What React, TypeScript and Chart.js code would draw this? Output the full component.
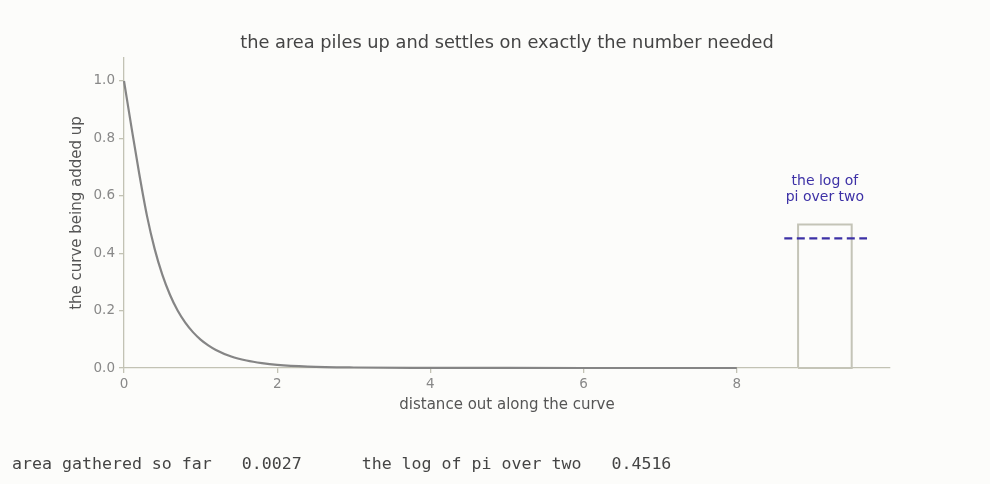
import { useEffect, useRef } from 'react';
import { Chart, registerables } from 'chart.js';

Chart.register(...registerables);

// the curve being added up
const curveX = [0, 0.1, 0.2, 0.3, 0.4, 0.5, 0.6, 0.7, 0.8, 0.9, 1.0, 1.1, 1.2, 1.4, 1.6, 1.8, 2.0, 2.4, 3.0, 4.0, 5.0, 6.0, 8.0];
const curveY = [1.0, 0.835, 0.675, 0.53, 0.415, 0.325, 0.255, 0.2, 0.158, 0.125, 0.099, 0.079, 0.063, 0.04, 0.026, 0.017, 0.011, 0.005, 0.0018, 0.0005, 0.0001, 0.0, 0.0];

// the box on the right and the target line
const boxX = [8.8, 9.5];
const boxHeight = 0.5;
const targetX = [8.62, 9.7];
const logPiOverTwo = 0.4516;
const areaSoFar = 0.0027;

const xTicks = [0, 2, 4, 6, 8];
const yTicks = [0, 0.2, 0.4, 0.6, 0.8, 1.0];

const AXIS = '#c2c2b4';
const INK = '#444444';
const TICK = '#888888';
const BLUE = '#3d31a6';

const textPlugin = {
  id: 'extraText',
  afterDraw(chart: any) {
    const { ctx, chartArea, scales } = chart;
    ctx.save();
    ctx.textAlign = 'center';
    ctx.textBaseline = 'middle';
    ctx.fillStyle = INK;
    ctx.font = '17.8px "DejaVu Sans"';
    ctx.fillText('the area piles up and settles on exactly the number needed', (chartArea.left + chartArea.right) / 2, 43);

    const cx = scales.x.getPixelForValue((boxX[0] + boxX[1]) / 2);
    ctx.fillStyle = BLUE;
    ctx.font = '14px "DejaVu Sans"';
    ctx.fillText('the log of', cx, 181);
    ctx.fillText('pi over two', cx, 197.5);
    ctx.restore();
  },
};

export default function App() {
  const canvasRef = useRef<HTMLCanvasElement>(null);
  const chartRef = useRef<Chart | null>(null);

  useEffect(() => {
    document.body.style.margin = '0';
    document.body.style.background = '#fcfcfa';
    if (!canvasRef.current) return;
    if (chartRef.current) chartRef.current.destroy();

    Chart.defaults.font.family = '"DejaVu Sans", sans-serif';

    const curve = curveX.map((x, i) => ({ x, y: curveY[i] }));
    const box = [
      { x: boxX[0], y: 0 },
      { x: boxX[0], y: boxHeight },
      { x: boxX[1], y: boxHeight },
      { x: boxX[1], y: 0 },
      { x: boxX[0], y: 0 },
    ];
    const target = targetX.map(x => ({ x, y: logPiOverTwo }));

    chartRef.current = new Chart(canvasRef.current, {
      type: 'line',
      data: {
        datasets: [
          {
            data: target,
            borderColor: BLUE,
            borderWidth: 2.2,
            borderDash: [8, 4.5],
            pointRadius: 0,
            clip: false,
          },
          {
            data: curve,
            borderColor: '#858585',
            borderWidth: 2.2,
            pointRadius: 0,
            cubicInterpolationMode: 'monotone',
            clip: false,
          },
          {
            data: box,
            borderColor: '#c4c4b7',
            borderWidth: 2,
            pointRadius: 0,
            tension: 0,
            clip: false,
          },
        ],
      } as any,
      options: {
        animation: false,
        responsive: false,
        maintainAspectRatio: false,
        layout: { padding: { top: 58, left: 0, right: 100, bottom: 0 } },
        plugins: {
          legend: { display: false },
          tooltip: { enabled: false },
          title: { display: false },
        },
        scales: {
          x: {
            type: 'linear',
            min: 0,
            max: 10,
            afterBuildTicks: (s: any) => { s.ticks = xTicks.map(v => ({ value: v })); },
            afterFit: (s: any) => { s.height = 116; },
            border: { display: true, color: AXIS, width: 1.3 },
            grid: { display: true, drawOnChartArea: false, drawTicks: true, tickLength: 5, color: AXIS, lineWidth: 1.3 },
            ticks: { color: TICK, font: { size: 13.5 }, padding: 3, maxRotation: 0, callback: (v: any) => String(v) },
            title: { display: true, text: 'distance out along the curve', color: '#555555', font: { size: 15 }, padding: { top: 0, bottom: 70 } },
          },
          y: {
            type: 'linear',
            min: 0,
            max: 1.08,
            afterBuildTicks: (s: any) => { s.ticks = yTicks.map(v => ({ value: v })); },
            afterFit: (s: any) => { s.width = 124; },
            border: { display: true, color: AXIS, width: 1.3 },
            grid: { display: true, drawOnChartArea: false, drawTicks: true, tickLength: 5, color: AXIS, lineWidth: 1.3 },
            ticks: { color: TICK, font: { size: 13.5 }, padding: 4, callback: (v: any) => Number(v).toFixed(1) },
            title: { display: true, text: 'the curve being added up', color: '#555555', font: { size: 15 }, padding: { top: 68, bottom: 0 } },
          },
        },
      } as any,
      plugins: [textPlugin],
    });

    return () => {
      if (chartRef.current) {
        chartRef.current.destroy();
        chartRef.current = null;
      }
    };
  }, []);

  return (
    <div style={{ position: 'relative', width: 990, height: 484, background: '#fcfcfa', overflow: 'hidden' }}>
      <canvas ref={canvasRef} width={990} height={484} style={{ display: 'block', width: 990, height: 484 }} />
      <div
        style={{
          position: 'absolute',
          left: 12,
          top: 454,
          fontFamily: '"DejaVu Sans Mono", monospace',
          fontSize: 16.6,
          lineHeight: '20px',
          color: INK,
          whiteSpace: 'pre',
        }}
      >
        {`area gathered so far   ${areaSoFar.toFixed(4)}      the log of pi over two   ${logPiOverTwo.toFixed(4)}`}
      </div>
    </div>
  );
}
